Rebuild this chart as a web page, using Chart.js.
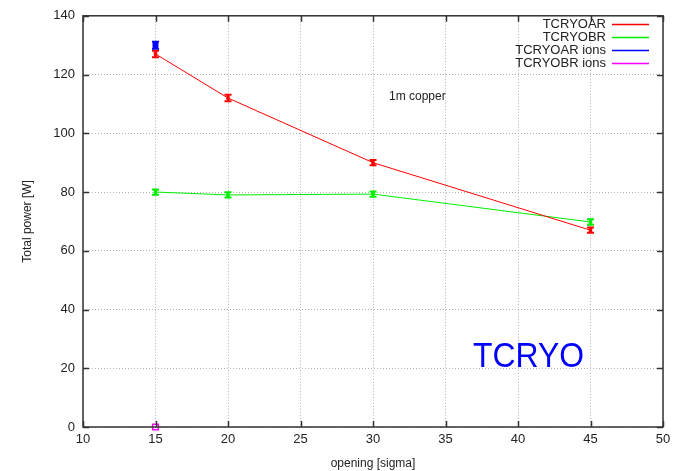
<!DOCTYPE html>
<html>
<head>
<meta charset="utf-8">
<script src="https://cdn.jsdelivr.net/npm/chart.js@4/dist/chart.umd.min.js"></script>
<style>
  html, body { margin: 0; padding: 0; background: #fff; }
  #wrap { width: 680px; height: 471px; }
</style>
</head>
<body>
<div id="wrap"><canvas id="power"></canvas></div>
<script>
// opening in sigma, total power in W
const openings = [15, 20, 30, 45];
const tcryoAR = [127, 112, 90, 67];
const tcryoARErr = [1.1, 1.1, 0.9, 0.9];
const tcryoBR = [80, 79, 79.3, 69.8];
const tcryoBRErr = [0.9, 0.9, 0.9, 0.9];
const ionOpenings = [15];
const tcryoARIons = [130];
const tcryoARIonsErr = [1.2];
const tcryoBRIons = [0];
const tcryoBRIonsErr = [0];

const xTicks = [10, 15, 20, 25, 30, 35, 40, 45, 50];
const yTicks = [0, 20, 40, 60, 80, 100, 120, 140];

function pts(xs, ys) {
  return xs.map((x, i) => ({ x: x, y: ys[i] }));
}

const FONT = 'Liberation Sans, Arial, sans-serif';

// error bars with caps, drawn through the chart scales
const errorBars = {
  id: 'errorBars',
  afterDatasetsDraw(chart) {
    const ctx = chart.ctx;
    const xs = chart.scales.x, ys = chart.scales.y;
    chart.data.datasets.forEach(ds => {
      if (!ds.errors) return;
      ctx.save();
      ctx.strokeStyle = ds.borderColor;
      ctx.lineWidth = 2;
      ds.data.forEach((p, i) => {
        const e = ds.errors[i];
        if (!e) return;
        const px = xs.getPixelForValue(p.x);
        const top = ys.getPixelForValue(p.y + e);
        const bot = ys.getPixelForValue(p.y - e);
        ctx.beginPath();
        ctx.moveTo(px, top); ctx.lineTo(px, bot);
        ctx.moveTo(px - 3.5, top); ctx.lineTo(px + 3.5, top);
        ctx.moveTo(px - 3.5, bot); ctx.lineTo(px + 3.5, bot);
        ctx.stroke();
      });
      ctx.restore();
    });
  }
};

// frame, inward ticks, legend and notes
const decor = {
  id: 'decor',
  afterDraw(chart) {
    const ctx = chart.ctx;
    const a = chart.chartArea;
    const xs = chart.scales.x, ys = chart.scales.y;
    ctx.save();
    ctx.strokeStyle = '#333';
    ctx.lineWidth = 1.5;
    ctx.strokeRect(a.left, a.top, a.right - a.left, a.bottom - a.top);
    ctx.beginPath();
    xTicks.forEach(v => {
      const px = Math.round(xs.getPixelForValue(v)) + 0.5;
      ctx.moveTo(px, a.bottom); ctx.lineTo(px, a.bottom - 6);
      ctx.moveTo(px, a.top); ctx.lineTo(px, a.top + 6);
    });
    yTicks.forEach(v => {
      const py = Math.round(ys.getPixelForValue(v)) + 0.5;
      ctx.moveTo(a.left, py); ctx.lineTo(a.left + 6, py);
      ctx.moveTo(a.right, py); ctx.lineTo(a.right - 6, py);
    });
    ctx.stroke();

    // legend, right aligned text with line sample
    ctx.font = '13px ' + FONT;
    ctx.textAlign = 'right';
    ctx.textBaseline = 'middle';
    chart.data.datasets.forEach((ds, i) => {
      const y = 24 + i * 13;
      ctx.fillStyle = '#222';
      ctx.fillText(ds.label, 606, y);
      ctx.strokeStyle = ds.borderColor;
      ctx.lineWidth = 1.5;
      ctx.beginPath();
      ctx.moveTo(612, y + 0.5); ctx.lineTo(649, y + 0.5);
      ctx.stroke();
    });

    ctx.textAlign = 'left';
    ctx.fillStyle = '#222';
    ctx.font = '12px ' + FONT;
    ctx.fillText('1m copper', 389, 97);

    // big label, squeezed to a narrower width
    ctx.fillStyle = '#0000ff';
    ctx.font = '35px ' + FONT;
    ctx.textBaseline = 'alphabetic';
    const w = ctx.measureText('TCRYO').width;
    ctx.translate(473, 367);
    ctx.scale(111 / w, 1);
    ctx.fillText('TCRYO', 0, 0);
    ctx.restore();
  }
};

new Chart(document.getElementById('power'), {
  type: 'scatter',
  plugins: [errorBars, decor],
  data: {
    datasets: [
      {
        label: 'TCRYOAR',
        data: pts(openings, tcryoAR),
        errors: tcryoARErr,
        showLine: true,
        borderColor: '#ff0000',
        backgroundColor: '#ff0000',
        borderWidth: 1,
        pointStyle: 'rect',
        pointRadius: 2.5,
        pointBorderWidth: 0
      },
      {
        label: 'TCRYOBR',
        data: pts(openings, tcryoBR),
        errors: tcryoBRErr,
        showLine: true,
        borderColor: '#00ee00',
        backgroundColor: '#00ee00',
        borderWidth: 1,
        pointStyle: 'rect',
        pointRadius: 2.5,
        pointBorderWidth: 0
      },
      {
        label: 'TCRYOAR ions',
        data: pts(ionOpenings, tcryoARIons),
        errors: tcryoARIonsErr,
        borderColor: '#0000ff',
        backgroundColor: '#0000ff',
        pointStyle: 'rect',
        pointRadius: 3.5,
        borderWidth: 1
      },
      {
        label: 'TCRYOBR ions',
        data: pts(ionOpenings, tcryoBRIons),
        errors: tcryoBRIonsErr,
        borderColor: '#ff00ff',
        backgroundColor: 'rgba(0,0,0,0)',
        pointStyle: 'rect',
        pointRadius: 4,
        borderWidth: 1.5,
        clip: false
      }
    ]
  },
  options: {
    responsive: true,
    maintainAspectRatio: false,
    animation: false,
    layout: { padding: { top: 11, right: 17, left: 0, bottom: 0 } },
    plugins: {
      legend: { display: false },
      tooltip: { enabled: false }
    },
    scales: {
      x: {
        type: 'linear',
        min: 10,
        max: 50,
        afterFit: s => { s.height = 44; },
        afterBuildTicks: s => { s.ticks = xTicks.map(v => ({ value: v })); },
        grid: {
          color: '#b0b0b0',
          lineWidth: 1,
          drawTicks: false
        },
        border: { display: false, dash: [1, 2] },
        ticks: {
          padding: 5,
          color: '#222',
          font: { family: FONT, size: 13 }
        },
        title: {
          display: true,
          text: 'opening [sigma]',
          color: '#222',
          font: { family: FONT, size: 12 },
          padding: { top: 0, bottom: 0 }
        }
      },
      y: {
        type: 'linear',
        min: 0,
        max: 140,
        afterFit: s => { s.width = 83; },
        afterBuildTicks: s => { s.ticks = yTicks.map(v => ({ value: v })); },
        grid: {
          color: '#b0b0b0',
          lineWidth: 1,
          drawTicks: false
        },
        border: { display: false, dash: [1, 2] },
        ticks: {
          padding: 8,
          color: '#222',
          font: { family: FONT, size: 13 }
        },
        title: {
          display: true,
          text: 'Total power [W]',
          color: '#222',
          font: { family: FONT, size: 12 },
          padding: { top: 20, bottom: 0 }
        }
      }
    }
  }
});
</script>
</body>
</html>
